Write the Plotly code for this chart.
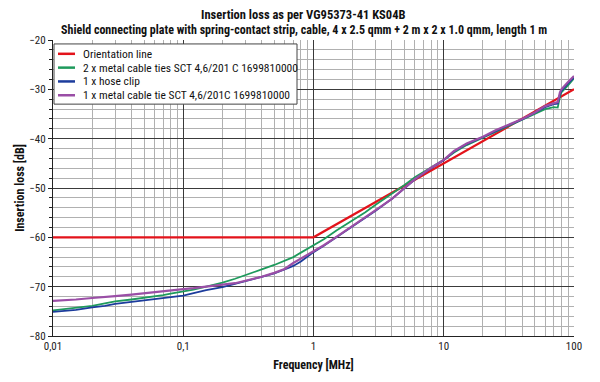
import plotly.graph_objects as go

# ---- data ----
orient_f = [0.01, 1, 100]
orient_db = [-60, -60, -30]

freq = [0.01, 0.012, 0.015, 0.02, 0.025, 0.03, 0.04, 0.05, 0.06, 0.07, 0.08, 0.1,
        0.12, 0.15, 0.2, 0.25, 0.3, 0.4, 0.5, 0.6, 0.7, 0.8, 1, 1.2, 1.5, 2, 2.5,
        3, 4, 5, 6, 7, 8, 10, 12, 15, 20, 25, 30, 40, 50, 60, 70, 75, 78, 80, 90, 100]

green_db = [-74.8, -74.6, -74.3, -73.9, -73.4, -73.0, -72.6, -72.3, -72.0, -71.7, -71.4, -71.0,
            -70.6, -70.0, -69.2, -68.4, -67.6, -66.5, -65.6, -64.8, -64.0, -63.1, -61.6, -60.4,
            -58.6, -56.6, -54.9, -53.4, -51.2, -49.4, -47.8, -46.7, -45.8, -44.3, -42.8, -41.3,
            -39.8, -38.6, -37.6, -36.2, -35.0, -34.0, -33.6, -33.7, -31.5, -30.6, -29.2, -27.8]

blue_db = [-75.1, -74.9, -74.7, -74.2, -73.9, -73.5, -73.1, -72.8, -72.5, -72.3, -72.1, -71.8,
           -71.3, -70.7, -70.1, -69.5, -68.9, -68.0, -67.3, -66.5, -65.8, -64.9, -63.0, -61.7,
           -60.0, -57.8, -56.0, -54.6, -52.2, -50.0, -48.3, -47.0, -46.0, -44.4, -42.6, -41.1,
           -39.7, -38.4, -37.5, -36.1, -34.8, -33.6, -33.0, -32.9, -31.0, -30.3, -28.8, -27.6]

purple_db = [-72.9, -72.8, -72.6, -72.3, -72.0, -71.9, -71.6, -71.3, -71.1, -70.9, -70.8, -70.5,
             -70.3, -70.0, -69.7, -69.3, -68.8, -68.0, -67.2, -66.4, -65.2, -64.3, -62.8, -61.6,
             -59.9, -57.7, -55.9, -54.5, -52.2, -49.9, -48.2, -47.0, -45.9, -44.3, -42.5, -41.0,
             -39.6, -38.3, -37.4, -36.0, -34.7, -33.4, -32.8, -32.6, -30.6, -30.0, -28.5, -27.3]

x_tickvals = [0.01, 0.1, 1, 10, 100]
x_ticktext = ["0,01", "0,1", "1", "10", "100"]
y_tickvals = [-80, -70, -60, -50, -40, -30, -20]

names = ["Orientation line",
         "2 x metal cable ties SCT 4,6/201 C 1699810000",
         "1 x hose clip",
         "1 x metal cable tie SCT 4,6/201C 1699810000"]
colors = ["#e3131b", "#1e9a5c", "#1c3c9c", "#9a4ea6"]
widths = [2.2, 1.8, 1.8, 2.2]

title1 = "Insertion loss as per VG95373-41 KS04B"
title2 = "Shield connecting plate with spring-contact strip, cable, 4 x 2.5 qmm + 2 m x 2 x 1.0 qmm, length 1 m"

FONT = "Roboto Condensed, Open Sans Condensed, DejaVu Sans Condensed, sans-serif"

# plot area in pixels (for placing the hand-drawn legend box)
L, R, T, B = 53, 574, 40, 340
def px(x):
    return (x - L) / (R - L)
def py(y):
    return 1 - (y - T) / (B - T)

fig = go.Figure()
series = [(orient_f, orient_db), (freq, green_db), (freq, blue_db), (freq, purple_db)]
for (xs, ys), n, c, w in zip(series, names, colors, widths):
    fig.add_trace(go.Scatter(x=xs, y=ys, mode="lines", name=n, showlegend=False,
                             line=dict(color=c, width=w)))

# legend box
fig.add_shape(type="rect", xref="paper", yref="paper", x0=px(54), x1=px(297), y0=py(105), y1=py(44),
              fillcolor="white", line=dict(color="#444", width=1), layer="above")
row_y = [54, 68, 82, 96]
for n, c, yy in zip(names, colors, row_y):
    fig.add_shape(type="line", xref="paper", yref="paper", x0=px(58), x1=px(75), y0=py(yy), y1=py(yy),
                  line=dict(color=c, width=2.5), layer="above")
    fig.add_annotation(xref="paper", yref="paper", x=px(81), y=py(yy), xanchor="left", yanchor="middle",
                       text=n, showarrow=False, font=dict(family=FONT, size=11.5, color="#111"))

# titles
fig.add_annotation(xref="paper", yref="paper", x=px(303), y=py(14), xanchor="center", yanchor="middle",
                   text="<b>" + title1 + "</b>", showarrow=False, font=dict(family=FONT, size=12.5, color="#111"))
fig.add_annotation(xref="paper", yref="paper", x=px(304), y=py(30), xanchor="center", yanchor="middle",
                   text="<b>" + title2 + "</b>", showarrow=False, font=dict(family=FONT, size=12, color="#111"))

fig.update_layout(
    width=600, height=382,
    margin=dict(l=L, r=600 - R, t=T, b=382 - B),
    paper_bgcolor="white", plot_bgcolor="white",
    font=dict(family=FONT, size=12, color="#222"),
    showlegend=False,
    xaxis=dict(type="log", range=[-2, 2], tickvals=x_tickvals, ticktext=x_ticktext,
               showgrid=True, gridcolor="#3a3a3a", gridwidth=1,
               minor=dict(dtick="D1", showgrid=True, gridcolor="#b0b0b0", gridwidth=1),
               showline=True, linecolor="#222", linewidth=1.2,
               ticks="", tickfont=dict(size=11, color="#222"),
               title=dict(text="<b>Frequency [MHz]</b>", font=dict(size=12, color="#111"), standoff=8),
               zeroline=False),
    yaxis=dict(range=[-80, -20], tickvals=y_tickvals,
               showgrid=True, gridcolor="#3a3a3a", gridwidth=1,
               minor=dict(dtick=2, showgrid=True, gridcolor="#b0b0b0", gridwidth=1,
                          ticks="outside", ticklen=3, tickcolor="#222"),
               ticks="outside", ticklen=4, tickcolor="#222",
               showline=True, linecolor="#222", linewidth=1.2,
               tickfont=dict(size=11, color="#222"),
               title=dict(text="<b>Insertion loss [dB]</b>", font=dict(size=12, color="#111"), standoff=2),
               zeroline=False),
)

fig.write_html("out.html", config={"displayModeBar": False},
               post_script="document.body.style.margin='0';")
